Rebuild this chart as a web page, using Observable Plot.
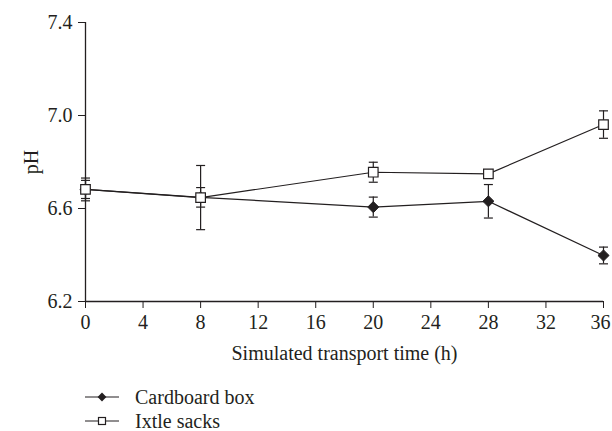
<!DOCTYPE html>
<html>
<head>
<meta charset="utf-8">
<script src="https://cdn.jsdelivr.net/npm/d3@7"></script>
<script src="https://cdn.jsdelivr.net/npm/@observablehq/plot@0.6"></script>
<style>
  html, body { margin: 0; padding: 0; background: #fff; }
  body { width: 612px; height: 431px; overflow: hidden; font-family: "Liberation Serif", "DejaVu Serif", serif; }
  #chart svg { overflow: visible; }
  #legend { position: relative; margin-left: 85px; margin-top: 10px; font-size: 20px; color: #231f20; }
  .row { display: flex; align-items: center; height: 24px; }
  .row svg { margin-right: 14px; }
</style>
</head>
<body>
<div id="chart"></div>
<div id="legend"></div>
<script>
const times = [0, 8, 20, 28, 36];
const cardboard = [6.682, 6.648, 6.606, 6.631, 6.398];
const cardboardErr = [0.049, 0.042, 0.043, 0.072, 0.036];
const ixtle = [6.682, 6.647, 6.756, 6.749, 6.961];
const ixtleErr = [0.039, 0.138, 0.043, 0.010, 0.059];
const seriesNames = ["Cardboard box", "Ixtle sacks"];
const xTicks = [0, 4, 8, 12, 16, 20, 24, 28, 32, 36];
const yTicks = [6.2, 6.6, 7.0, 7.4];

const rows = [];
times.forEach((t, i) => {
  rows.push({series: seriesNames[0], t, v: cardboard[i], e: cardboardErr[i]});
  rows.push({series: seriesNames[1], t, v: ixtle[i], e: ixtleErr[i]});
});
const cb = rows.filter(d => d.series === seriesNames[0]);
const ix = rows.filter(d => d.series === seriesNames[1]);

const cap = {
  draw(context, size) {
    const w = 4.5;
    context.moveTo(-w, 0);
    context.lineTo(w, 0);
  }
};

const ink = "#231f20";
const lastTick = xTicks[xTicks.length - 1];
const chart = Plot.plot({
  width: 612,
  height: 375,
  marginLeft: 85,
  marginRight: 9,
  marginTop: 22,
  marginBottom: 74,
  style: {fontFamily: "Liberation Serif, DejaVu Serif, serif", fontSize: "20px", color: ink, background: "#fff", overflow: "visible"},
  x: {domain: [0, 36]},
  y: {domain: [6.2, 7.4]},
  marks: [
    Plot.axisX({ticks: xTicks.slice(0, -1), tickSize: 7, tickPadding: 6, fontSize: 20, label: "Simulated transport time (h)", labelAnchor: "center", labelArrow: "none", labelOffset: 58}),
    Plot.axisX({ticks: [lastTick], tickSize: 7, tickPadding: 6, fontSize: 20, label: null}),
    Plot.axisX({ticks: [lastTick], tickSize: 0, tickPadding: 13, fontSize: 20, label: null, dx: -3, text: () => ""}),
    Plot.axisY({ticks: yTicks, tickFormat: d3.format(".1f"), tickSize: 7, tickPadding: 6, fontSize: 20, label: "pH", labelAnchor: "center", labelArrow: "none", labelOffset: 62}),
    Plot.ruleX([0], {y1: 6.2, y2: 7.4, stroke: ink, strokeWidth: 1.3}),
    Plot.ruleY([6.2], {stroke: ink, strokeWidth: 1.3}),
    Plot.line(cb, {x: "t", y: "v", stroke: ink, strokeWidth: 1.2}),
    Plot.line(ix, {x: "t", y: "v", stroke: ink, strokeWidth: 1.2}),
    Plot.ruleX(rows, {x: "t", y1: d => d.v - d.e, y2: d => d.v + d.e, stroke: ink, strokeWidth: 1.2}),
    Plot.dot(rows, {x: "t", y: d => d.v - d.e, symbol: cap, r: 3, stroke: ink, strokeWidth: 1.2}),
    Plot.dot(rows, {x: "t", y: d => d.v + d.e, symbol: cap, r: 3, stroke: ink, strokeWidth: 1.2}),
    Plot.dot(cb, {x: "t", y: "v", symbol: "diamond2", r: 5, fill: ink, stroke: ink, strokeWidth: 1}),
    Plot.dot(ix, {x: "t", y: "v", symbol: "square", r: 5.4, fill: "#fff", stroke: ink, strokeWidth: 1.2})
  ]
});
// shift last x tick label slightly left so it stays inside the 612px frame
const svg = d3.select(chart);
const labels = svg.selectAll("g[aria-label='x-axis tick label'] text").nodes();
labels.forEach(n => { if (n.textContent === String(lastTick)) d3.select(n.parentNode.tagName === "g" ? n : n).attr("dx", -3); });
document.getElementById("chart").appendChild(chart);

// legend
const legend = d3.select("#legend");
seriesNames.forEach((name, i) => {
  const row = legend.append("div").attr("class", "row");
  const s = row.append("svg").attr("width", 36).attr("height", 14);
  s.append("line").attr("x1", 0).attr("x2", 34).attr("y1", 7).attr("y2", 7).attr("stroke", ink).attr("stroke-width", 1.2);
  if (i === 0) {
    s.append("path").attr("d", d3.symbol(d3.symbolDiamond2, 50)()).attr("transform", "translate(17,7)").attr("fill", ink);
  } else {
    s.append("rect").attr("x", 13.5).attr("y", 3.5).attr("width", 7).attr("height", 7).attr("fill", "#fff").attr("stroke", ink).attr("stroke-width", 1.2);
  }
  row.append("span").text(name);
});
</script>
</body>
</html>
